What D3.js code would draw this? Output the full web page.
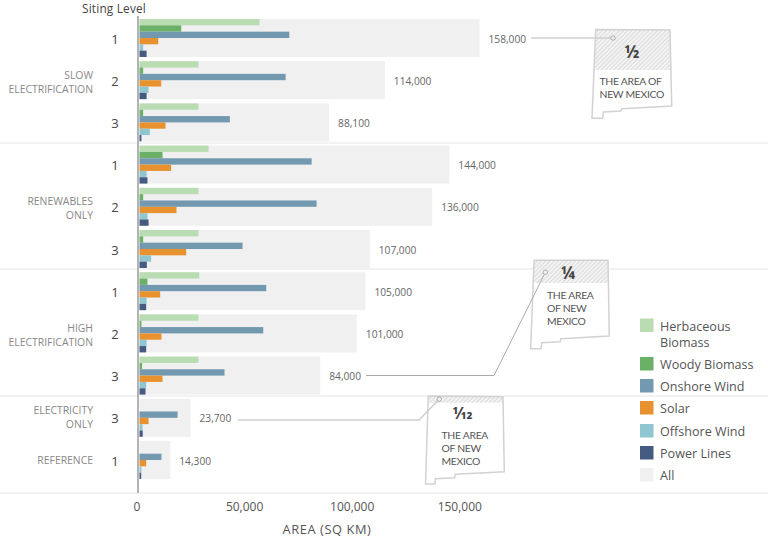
<!DOCTYPE html>
<html>
<head>
<meta charset="utf-8">
<script src="https://cdn.jsdelivr.net/npm/d3@7"></script>
<style>
  html, body { margin: 0; padding: 0; background: #fff; }
  svg { display: block; }
  text { font-family: "Open Sans", "Noto Sans", sans-serif; }
</style>
</head>
<body>
<script>
// one entry per row, top to bottom
const levels = [1, 2, 3, 1, 2, 3, 1, 2, 3, 3, 1]
const herbaceous = [55800, 27400, 27400, 32100, 27400, 27400, 27800, 27400, 27400, 0, 0]
const woody = [19400, 1700, 1700, 10700, 1700, 1700, 3700, 900, 1200, 0, 0]
const onshore = [69600, 67900, 42000, 80000, 82300, 47900, 58900, 57500, 39500, 17700, 10200]
const solar = [8700, 10100, 12100, 14700, 17200, 21700, 9600, 10200, 10700, 4200, 3100]
const offshore = [1700, 4200, 4800, 3300, 3700, 5400, 3300, 3300, 3100, 1400, 900]
const powerLines = [3300, 3300, 900, 3700, 4200, 3400, 3100, 3100, 2800, 1500, 800]
const allArea = [158000, 114000, 88100, 144000, 136000, 107000, 105000, 101000, 84000, 23700, 14300]

const seriesNames = ['Herbaceous Biomass', 'Woody Biomass', 'Onshore Wind', 'Solar', 'Offshore Wind', 'Power Lines']
const seriesValues = [herbaceous, woody, onshore, solar, offshore, powerLines]
const seriesColors = ['#b9dcb3', '#6bb067', '#7299b0', '#e8922f', '#90c6d0', '#465b82']
const allColor = '#f0f0f0'

// scenario, first row, last row, label lines
const scenarios = [
  { lines: ['SLOW', 'ELECTRIFICATION'], first: 0, last: 2 },
  { lines: ['RENEWABLES', 'ONLY'], first: 3, last: 5 },
  { lines: ['HIGH', 'ELECTRIFICATION'], first: 6, last: 8 },
  { lines: ['ELECTRICITY', 'ONLY'], first: 9, last: 9 },
  { lines: ['REFERENCE'], first: 10, last: 10 }
]
const axisTicks = [0, 50000, 100000, 150000]

const width = 768
const height = 537

const svg = d3.select('body').append('svg')
  .attr('width', width)
  .attr('height', height)

const x = d3.scaleLinear().domain([0, 158000]).range([139.5, 479.5])
const y = d3.scaleBand().domain(d3.range(allArea.length)).range([19, 479]).paddingInner(0.1)
const sub = d3.scaleBand().domain(d3.range(seriesNames.length)).range([0, y.bandwidth()])

const fmt = d3.format(',')
const rowMid = i => y(i) + y.bandwidth() / 2

// dividers go first so the axis sits over them
const dividerYs = [143, 269, 396, 493]
svg.append('g').selectAll('line')
  .data(dividerYs)
  .enter().append('line')
  .attr('x1', 0)
  .attr('x2', width)
  .attr('y1', d => d)
  .attr('y2', d => d)
  .attr('stroke', '#e6e6e6')
  .attr('stroke-width', 1)

const rows = svg.append('g').selectAll('g')
  .data(allArea)
  .enter().append('g')
  .attr('transform', (d, i) => `translate(0,${y(i)})`)

rows.append('rect')
  .attr('x', x(0))
  .attr('width', d => x(d) - x(0))
  .attr('height', y.bandwidth())
  .attr('fill', allColor)

seriesValues.forEach((values, s) => {
  rows.append('rect')
    .attr('x', x(0))
    .attr('y', sub(s))
    .attr('width', (d, i) => x(values[i]) - x(0))
    .attr('height', sub.bandwidth())
    .attr('fill', seriesColors[s])
})

// axis line
svg.append('line')
  .attr('x1', 138)
  .attr('x2', 138)
  .attr('y1', 16)
  .attr('y2', 493)
  .attr('stroke', '#9a9a9a')
  .attr('stroke-width', 1.5)

// value labels
svg.append('g').selectAll('text')
  .data(allArea)
  .enter().append('text')
  .attr('x', d => x(d) + 9)
  .attr('y', (d, i) => rowMid(i) + 1)
  .attr('dy', '0.35em')
  .attr('font-size', 10.2)
  .attr('fill', '#666')
  .text(d => fmt(d))

// siting level
svg.append('text')
  .attr('x', 82)
  .attr('y', 12.6)
  .attr('font-size', 11.8)
  .attr('letter-spacing', 0.2)
  .attr('fill', '#444')
  .text('Siting Level')

svg.append('g').selectAll('text')
  .data(levels)
  .enter().append('text')
  .attr('x', 115)
  .attr('y', (d, i) => rowMid(i) + 1)
  .attr('dy', '0.35em')
  .attr('text-anchor', 'middle')
  .attr('font-size', 13)
  .attr('fill', '#444')
  .text(d => d)

// scenario labels
scenarios.forEach(sc => {
  const mid = (rowMid(sc.first) + rowMid(sc.last)) / 2 + (sc.last > sc.first ? 2 : 0)
  const label = svg.append('text')
    .attr('text-anchor', 'end')
    .attr('font-size', 10.4)
    .attr('fill', '#888')
  sc.lines.forEach((line, i) => {
    label.append('tspan')
      .attr('x', 93)
      .attr('y', mid + (i - (sc.lines.length - 1) / 2) * 14)
      .attr('dy', '0.35em')
      .text(line)
  })
})

// x axis labels
svg.append('g').selectAll('text')
  .data(axisTicks)
  .enter().append('text')
  .attr('x', d => x(d) - 2.5)
  .attr('y', 507)
  .attr('dy', '0.35em')
  .attr('text-anchor', 'middle')
  .attr('font-size', 12)
  .attr('fill', '#555')
  .text(d => fmt(d))

svg.append('text')
  .attr('x', 327)
  .attr('y', 530)
  .attr('dy', '0.35em')
  .attr('text-anchor', 'middle')
  .attr('font-size', 12.8)
  .attr('letter-spacing', 0.6)
  .attr('fill', '#555')
  .text('AREA (SQ KM)')

// new mexico call-outs
const defs = svg.append('defs')
defs.append('pattern')
  .attr('id', 'hatch')
  .attr('width', 3)
  .attr('height', 3)
  .attr('patternUnits', 'userSpaceOnUse')
  .attr('patternTransform', 'rotate(-45)')
  .call(p => p.append('rect').attr('width', 3).attr('height', 3).attr('fill', '#f3f3f3'))
  .call(p => p.append('line').attr('x1', 0).attr('x2', 3).attr('y1', 0.5).attr('y2', 0.5)
    .attr('stroke', '#dcdcdc').attr('stroke-width', 1))

const callouts = [
  {
    outline: [[595.7, 29.5], [670, 30], [671.7, 106], [621.7, 108.7], [621, 111], [603.5, 112], [602.7, 118.3], [592, 118.3]],
    hatchTo: 70,
    frac: '½', fx: 632, fy: 52, fs: 17,
    text: ['THE AREA OF', 'NEW MEXICO'], tx: 599.5, ty: 81,
    leader: [[531, 38], [611, 38]], leaderW: 1.5, dot: [613, 38]
  },
  {
    outline: [[534, 260.3], [608, 260.3], [609.3, 336], [561, 338.7], [560, 341.7], [541.7, 342.7], [541, 348.7], [530.7, 348.7]],
    hatchTo: 283,
    frac: '¼', fx: 568, fy: 273, fs: 17,
    text: ['THE AREA', 'OF NEW', 'MEXICO'], tx: 547, ty: 295,
    leader: [[366, 375.5], [494, 375.5], [544, 275]], leaderW: 1, dot: [545.3, 272.3]
  },
  {
    outline: [[428.3, 396], [503, 396.7], [504.3, 471.7], [455.3, 474.3], [454.7, 477.7], [435.3, 478.7], [435, 484], [425.5, 484]],
    hatchTo: 402.7,
    frac: '1⁄12', fx: 462.5, fy: 413, fs: 16,
    text: ['THE AREA', 'OF NEW', 'MEXICO'], tx: 441.5, ty: 435,
    leader: [[238, 420], [419, 420], [437.5, 401]], leaderW: 1.5, dot: [439.3, 399.3]
  }
]

const pathLine = d3.line()

callouts.forEach((c, i) => {
  const g = svg.append('g')
  const d = pathLine(c.outline) + 'Z'
  defs.append('clipPath').attr('id', `nm${i}`)
    .append('rect')
    .attr('x', 400).attr('y', c.outline[0][1] - 2)
    .attr('width', 368).attr('height', c.hatchTo - c.outline[0][1] + 2)
  g.append('path').attr('d', d).attr('fill', '#fff')
  g.append('path').attr('d', d).attr('fill', 'url(#hatch)').attr('clip-path', `url(#nm${i})`)
  g.append('path').attr('d', d)
    .attr('fill', 'none')
    .attr('stroke', '#d2d2d2')
    .attr('stroke-width', 1.5)
  g.append('path')
    .attr('d', pathLine(c.leader))
    .attr('fill', 'none')
    .attr('stroke', c.leaderW > 1 ? '#cfcfcf' : '#aaa')
    .attr('stroke-width', c.leaderW)
  g.append('circle')
    .attr('cx', c.dot[0])
    .attr('cy', c.dot[1])
    .attr('r', 2.2)
    .attr('fill', '#f4f4f4')
    .attr('stroke', '#999')
    .attr('stroke-width', 0.8)
  g.append('text')
    .attr('x', c.fx)
    .attr('y', c.fy)
    .attr('dy', '0.35em')
    .attr('text-anchor', 'middle')
    .attr('font-size', c.fs)
    .attr('font-weight', 700)
    .attr('fill', '#444')
    .text(c.frac)
  // Lato here, its line box fits the 13px leading
  const body = g.append('text')
    .style('font-family', 'Lato, sans-serif')
    .attr('font-size', 10.4)
    .attr('letter-spacing', -0.3)
    .attr('fill', '#555')
  c.text.forEach((t, j) => {
    body.append('tspan')
      .attr('x', c.tx)
      .attr('y', c.ty + j * 13)
      .attr('dy', '0.35em')
      .text(t)
  })
})

// legend
const legendYs = [318.5, 357, 379, 401, 424, 446, 468]
const legendItems = seriesNames.map((n, i) => ({ name: n, color: seriesColors[i] }))
  .concat([{ name: 'All', color: allColor }])

const legend = svg.append('g').selectAll('g')
  .data(legendItems)
  .enter().append('g')
  .attr('transform', (d, i) => `translate(640,${legendYs[i]})`)

legend.append('rect')
  .attr('width', 13.5)
  .attr('height', 13.5)
  .attr('fill', d => d.color)

legend.append('text')
  .attr('x', 20)
  .attr('y', 8)
  .attr('dy', '0.35em')
  .attr('font-size', 12.6)
  .attr('fill', '#555')
  .each(function (d) {
    const sel = d3.select(this)
    if (d.name === 'Herbaceous Biomass') {
      sel.append('tspan').attr('x', 20).text('Herbaceous')
      sel.append('tspan').attr('x', 20).attr('dy', 16).text('Biomass')
    } else {
      sel.text(d.name)
    }
  })
</script>
</body>
</html>
